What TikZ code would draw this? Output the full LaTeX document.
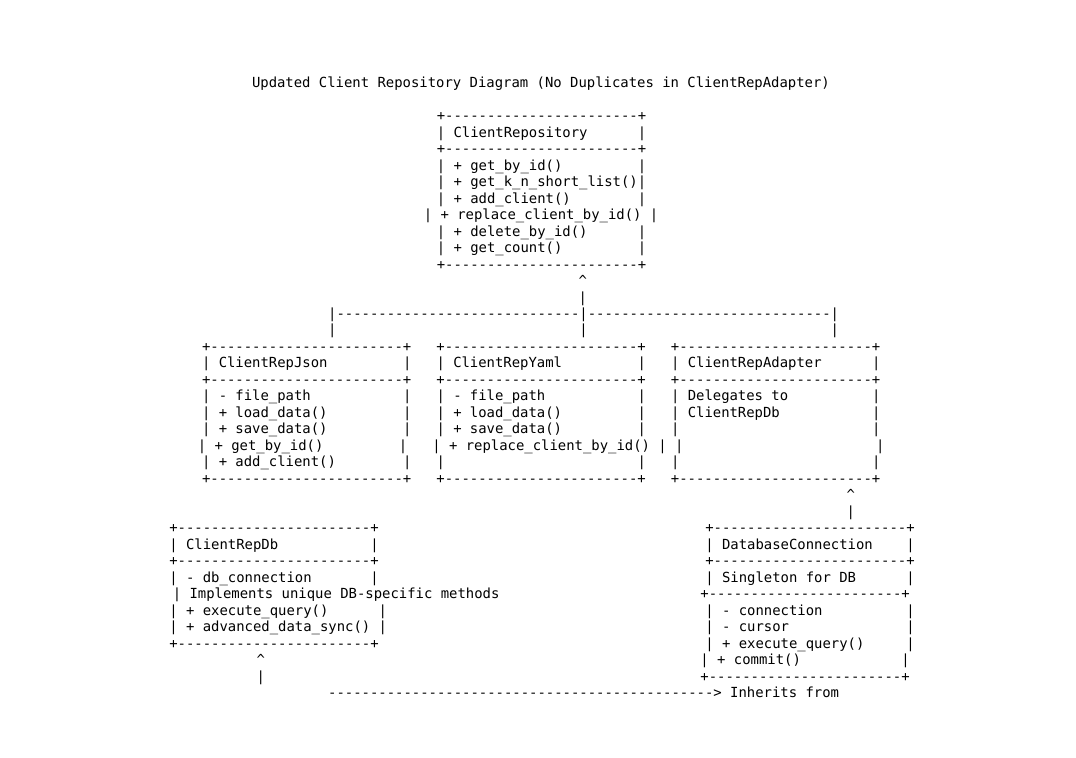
\documentclass[tikz,border=0pt]{standalone}
\usepackage{fontspec}
\setmonofont{DejaVu Sans Mono}
\ExplSyntaxOn
\NewDocumentCommand\gap{m}{\prg_replicate:nn{#1}{\ }}
\NewDocumentCommand\dashes{m}{\prg_replicate:nn{#1}{-}}
\ExplSyntaxOff
\tikzset{
  ln/.style={anchor=base west, inner sep=0pt, outer sep=0pt, text=black,
    font=\ttfamily\fontsize{13.963pt}{16pt}\selectfont}
}
\newcommand\yb[1]{87.7+16.486*#1}
\begin{document}
\begin{tikzpicture}[x=1bp,y=-1bp]
\fill[white] (0,0) rectangle (1076,758);
\useasboundingbox (0,0) rectangle (1076,758);
% title
\node[ln] (r0) at (252,{\yb{0}}) {Updated Client Repository Diagram (No Duplicates in ClientRepAdapter)};
% ClientRepository
\node[ln] (r2) at (436.8,{\yb{2}}) {+\dashes{23}+};
\node[ln] (r3) at (436.8,{\yb{3}}) {| ClientRepository\gap{6}|};
\node[ln] (r4) at (436.8,{\yb{4}}) {+\dashes{23}+};
\node[ln] (r5) at (436.8,{\yb{5}}) {| + get\_by\_id()\gap{9}|};
\node[ln] (r6) at (436.8,{\yb{6}}) {| + get\_k\_n\_short\_list()|};
\node[ln] (r7) at (436.8,{\yb{7}}) {| + add\_client()\gap{8}|};
\node[ln] (r8) at (423.8,{\yb{8}}) {| + replace\_client\_by\_id() |};
\node[ln] (r9) at (436.8,{\yb{9}}) {| + delete\_by\_id()\gap{6}|};
\node[ln] (r10) at (436.8,{\yb{10}}) {| + get\_count()\gap{9}|};
\node[ln] (r11) at (436.8,{\yb{11}}) {+\dashes{23}+};
% inheritance connector
\node[ln] (r12) at (578.5,{\yb{12}}) {\textasciicircum};
\node[ln] (r13) at (578.5,{\yb{13}}) {|};
\node[ln] (r14) at (328.2,{\yb{14}}) {|\dashes{29}|\dashes{29}|};
\node[ln] (r15) at (328.2,{\yb{15}}) {|\gap{29}|\gap{29}|};
% three middle boxes
\node[ln] (r16) at (202,{\yb{16}}) {+\dashes{23}+\gap{3}+\dashes{23}+\gap{3}+\dashes{23}+};
\node[ln] (r17) at (202,{\yb{17}}) {| ClientRepJson\gap{9}|\gap{3}| ClientRepYaml\gap{9}|\gap{3}| ClientRepAdapter\gap{6}|};
\node[ln] (r18) at (202,{\yb{18}}) {+\dashes{23}+\gap{3}+\dashes{23}+\gap{3}+\dashes{23}+};
\node[ln] (r19) at (202,{\yb{19}}) {| - file\_path\gap{11}|\gap{3}| - file\_path\gap{11}|\gap{3}| Delegates to\gap{10}|};
\node[ln] (r20) at (202,{\yb{20}}) {| + load\_data()\gap{9}|\gap{3}| + load\_data()\gap{9}|\gap{3}| ClientRepDb\gap{11}|};
\node[ln] (r21) at (202,{\yb{21}}) {| + save\_data()\gap{9}|\gap{3}| + save\_data()\gap{9}|\gap{3}|\gap{23}|};
\node[ln] (r22) at (197.8,{\yb{22}}) {| + get\_by\_id()\gap{9}|\gap{3}| + replace\_client\_by\_id() | |\gap{23}|};
\node[ln] (r23) at (202,{\yb{23}}) {| + add\_client()\gap{8}|\gap{3}|\gap{23}|\gap{3}|\gap{23}|};
\node[ln] (r24) at (202,{\yb{24}}) {+\dashes{23}+\gap{3}+\dashes{23}+\gap{3}+\dashes{23}+};
% adapter connector
\node[ln] (r25) at (846.5,{\yb{25}}) {\textasciicircum};
\node[ln] (r26) at (846.5,{\yb{26}}) {|};
% bottom boxes
\node[ln] (r27) at (169.3,{\yb{27}}) {+\dashes{23}+\gap{39}+\dashes{23}+};
\node[ln] (r28) at (169.3,{\yb{28}}) {| ClientRepDb\gap{11}|\gap{39}| DatabaseConnection\gap{4}|};
\node[ln] (r29) at (169.3,{\yb{29}}) {+\dashes{23}+\gap{39}+\dashes{23}+};
\node[ln] (r30) at (169.3,{\yb{30}}) {| - db\_connection\gap{7}|\gap{39}| Singleton for DB\gap{6}|};
\node[ln] (r31) at (172.8,{\yb{31}}) {| Implements unique DB-specific methods\gap{24}+\dashes{23}+};
\node[ln] (r32) at (169.3,{\yb{32}}) {| + execute\_query()\gap{6}|\gap{38}| - connection\gap{10}|};
\node[ln] (r33) at (169.3,{\yb{33}}) {| + advanced\_data\_sync() |\gap{38}| - cursor\gap{14}|};
\node[ln] (r34) at (169.3,{\yb{34}}) {+\dashes{23}+\gap{39}| + execute\_query()\gap{5}|};
\node[ln] (r35) at (256.5,{\yb{35}}) {\textasciicircum\gap{52}| + commit()\gap{12}|};
\node[ln] (r36) at (256.5,{\yb{36}}) {|\gap{52}+\dashes{23}+};
\node[ln] (r37) at (328.2,{\yb{37}}) {\dashes{46}> Inherits from};
\end{tikzpicture}
\end{document}
